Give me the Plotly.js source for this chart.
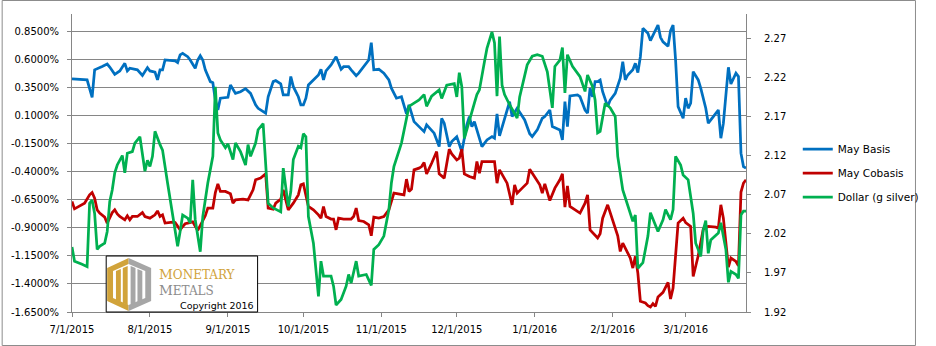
<!DOCTYPE html>
<html>
<head>
<meta charset="utf-8">
<script src="https://cdn.plot.ly/plotly-3.0.1.min.js"></script>
<style>
html,body{margin:0;padding:0;background:#fff;}
#chart{width:936px;height:346px;}
</style>
</head>
<body>
<div id="chart"></div>
<script>
// ---------- DATA ----------
const basisDates = ["2015-07-01","2015-07-07","2015-07-09","2015-07-10","2015-07-13","2015-07-15","2015-07-16","2015-07-18","2015-07-20","2015-07-22","2015-07-23","2015-07-24","2015-07-27","2015-07-29","2015-07-31","2015-08-01","2015-08-03","2015-08-04","2015-08-05","2015-08-06","2015-08-07","2015-08-11","2015-08-12","2015-08-13","2015-08-14","2015-08-16","2015-08-17","2015-08-19","2015-08-20","2015-08-21","2015-08-22","2015-08-23","2015-08-25","2015-08-26","2015-08-27","2015-08-28","2015-08-29","2015-09-01","2015-09-02","2015-09-04","2015-09-06","2015-09-08","2015-09-10","2015-09-12","2015-09-13","2015-09-16","2015-09-17","2015-09-19","2015-09-20","2015-09-22","2015-09-23","2015-09-25","2015-09-26","2015-09-27","2015-09-29","2015-09-30","2015-10-01","2015-10-02","2015-10-03","2015-10-07","2015-10-08","2015-10-09","2015-10-10","2015-10-12","2015-10-14","2015-10-16","2015-10-17","2015-10-19","2015-10-20","2015-10-22","2015-10-23","2015-10-25","2015-10-27","2015-10-28","2015-10-29","2015-10-31","2015-11-02","2015-11-04","2015-11-05","2015-11-07","2015-11-09","2015-11-11","2015-11-12","2015-11-14","2015-11-16","2015-11-18","2015-11-19","2015-11-22","2015-11-24","2015-11-25","2015-11-26","2015-11-28","2015-11-29","2015-12-01","2015-12-03","2015-12-05","2015-12-06","2015-12-07","2015-12-08","2015-12-11","2015-12-13","2015-12-15","2015-12-16","2015-12-17","2015-12-18","2015-12-20","2015-12-22","2015-12-23","2015-12-25","2015-12-28","2015-12-30","2015-12-31","2016-01-02","2016-01-04","2016-01-05","2016-01-07","2016-01-08","2016-01-11","2016-01-12","2016-01-13","2016-01-14","2016-01-15","2016-01-18","2016-01-19","2016-01-21","2016-01-22","2016-01-23","2016-01-24","2016-01-25","2016-01-26","2016-01-27","2016-01-28","2016-01-30","2016-01-31","2016-02-02","2016-02-04","2016-02-05","2016-02-06","2016-02-07","2016-02-09","2016-02-10","2016-02-11","2016-02-12","2016-02-13","2016-02-15","2016-02-16","2016-02-18","2016-02-19","2016-02-20","2016-02-21","2016-02-23","2016-02-24","2016-02-25","2016-02-26","2016-02-27","2016-02-28","2016-02-29","2016-03-01","2016-03-02","2016-03-03","2016-03-04","2016-03-06","2016-03-07","2016-03-09","2016-03-10","2016-03-12","2016-03-14","2016-03-15","2016-03-16","2016-03-18","2016-03-19","2016-03-21","2016-03-22","2016-03-23","2016-03-24","2016-03-25"];
const basisValues = [0.43,0.42,0.265,0.51,0.54,0.562,0.535,0.47,0.50,0.568,0.50,0.524,0.51,0.46,0.53,0.50,0.49,0.42,0.51,0.51,0.598,0.59,0.575,0.643,0.657,0.627,0.598,0.524,0.598,0.636,0.598,0.51,0.405,0.395,0.24,0.152,0.257,0.265,0.375,0.30,0.315,0.342,0.30,0.197,0.167,0.123,0.27,0.405,0.414,0.384,0.286,0.286,0.45,0.36,0.27,0.197,0.197,0.257,0.375,0.464,0.515,0.42,0.50,0.553,0.627,0.515,0.538,0.538,0.51,0.458,0.48,0.538,0.598,0.752,0.51,0.515,0.48,0.42,0.346,0.257,0.27,0.117,0.197,0.048,0.004,-0.041,0.019,-0.055,-0.175,0.078,0.034,-0.175,-0.13,-0.086,-0.219,0.019,0.093,0.004,0.048,-0.175,-0.115,-0.086,-0.10,0.117,-0.079,0.063,0.226,0.093,0.167,0.063,-0.06,-0.086,-0.026,0.078,0.093,0.152,0.004,-0.026,-0.115,0.226,0.004,0.277,0.286,0.27,0.152,0.123,0.346,0.27,0.405,0.405,0.42,0.315,0.182,0.24,0.30,0.435,0.583,0.42,0.464,0.51,0.568,0.485,0.627,0.88,0.836,0.77,0.86,0.91,0.80,0.76,0.72,0.86,0.91,0.598,0.182,0.137,0.078,0.257,0.167,0.212,0.494,0.42,0.346,0.167,0.034,0.093,0.152,-0.10,0.034,0.533,0.384,0.48,0.45,-0.233,-0.353,-0.367];

const cobasisDates = ["2015-07-01","2015-07-02","2015-07-06","2015-07-08","2015-07-09","2015-07-10","2015-07-11","2015-07-12","2015-07-14","2015-07-15","2015-07-17","2015-07-18","2015-07-19","2015-07-20","2015-07-22","2015-07-23","2015-07-24","2015-07-25","2015-07-27","2015-07-29","2015-07-30","2015-08-01","2015-08-03","2015-08-04","2015-08-05","2015-08-06","2015-08-07","2015-08-10","2015-08-11","2015-08-13","2015-08-14","2015-08-15","2015-08-16","2015-08-18","2015-08-20","2015-08-21","2015-08-23","2015-08-24","2015-08-26","2015-08-27","2015-08-28","2015-08-29","2015-08-31","2015-09-02","2015-09-03","2015-09-04","2015-09-07","2015-09-09","2015-09-11","2015-09-12","2015-09-14","2015-09-16","2015-09-17","2015-09-19","2015-09-20","2015-09-22","2015-09-23","2015-09-24","2015-09-25","2015-09-27","2015-09-29","2015-09-30","2015-10-01","2015-10-03","2015-10-05","2015-10-07","2015-10-08","2015-10-09","2015-10-10","2015-10-12","2015-10-13","2015-10-14","2015-10-15","2015-10-17","2015-10-20","2015-10-21","2015-10-22","2015-10-23","2015-10-25","2015-10-27","2015-10-28","2015-10-29","2015-10-31","2015-11-02","2015-11-04","2015-11-06","2015-11-10","2015-11-11","2015-11-12","2015-11-13","2015-11-14","2015-11-16","2015-11-17","2015-11-18","2015-11-19","2015-11-21","2015-11-22","2015-11-23","2015-11-24","2015-11-26","2015-11-28","2015-11-29","2015-12-01","2015-12-02","2015-12-03","2015-12-04","2015-12-06","2015-12-08","2015-12-09","2015-12-10","2015-12-11","2015-12-13","2015-12-16","2015-12-17","2015-12-18","2015-12-21","2015-12-23","2015-12-24","2015-12-25","2015-12-27","2015-12-29","2015-12-30","2015-12-31","2016-01-03","2016-01-04","2016-01-05","2016-01-07","2016-01-09","2016-01-11","2016-01-12","2016-01-13","2016-01-14","2016-01-15","2016-01-17","2016-01-19","2016-01-21","2016-01-22","2016-01-23","2016-01-24","2016-01-26","2016-01-27","2016-01-28","2016-01-30","2016-01-31","2016-02-01","2016-02-03","2016-02-04","2016-02-05","2016-02-07","2016-02-08","2016-02-09","2016-02-10","2016-02-11","2016-02-12","2016-02-14","2016-02-15","2016-02-16","2016-02-17","2016-02-18","2016-02-19","2016-02-21","2016-02-23","2016-02-24","2016-02-25","2016-02-27","2016-02-29","2016-03-01","2016-03-03","2016-03-04","2016-03-06","2016-03-08","2016-03-10","2016-03-13","2016-03-14","2016-03-15","2016-03-16","2016-03-18","2016-03-19","2016-03-21","2016-03-22","2016-03-23","2016-03-24","2016-03-25"];
const cobasisValues = [-0.665,-0.73,-0.679,-0.605,-0.584,-0.634,-0.739,-0.768,-0.804,-0.857,-0.763,-0.739,-0.775,-0.798,-0.828,-0.792,-0.828,-0.798,-0.798,-0.763,-0.798,-0.813,-0.783,-0.748,-0.798,-0.783,-0.857,-0.848,-0.852,-0.917,-0.887,-0.863,-0.857,-0.846,-0.923,-0.881,-0.792,-0.723,-0.723,-0.584,-0.507,-0.575,-0.575,-0.596,-0.679,-0.65,-0.643,-0.65,-0.56,-0.471,-0.456,-0.418,-0.723,-0.732,-0.679,-0.643,-0.56,-0.65,-0.739,-0.679,-0.605,-0.516,-0.507,-0.709,-0.739,-0.783,-0.813,-0.709,-0.798,-0.821,-0.821,-0.917,-0.813,-0.821,-0.821,-0.798,-0.723,-0.834,-0.843,-0.872,-0.97,-0.804,-0.813,-0.798,-0.739,-0.59,-0.605,-0.465,-0.575,-0.554,-0.382,-0.367,-0.353,-0.317,-0.418,-0.323,-0.264,-0.219,-0.418,-0.456,-0.198,-0.24,-0.293,-0.278,-0.198,-0.418,-0.442,-0.456,-0.308,-0.412,-0.308,-0.308,-0.308,-0.501,-0.382,-0.501,-0.694,-0.516,-0.59,-0.545,-0.501,-0.376,-0.412,-0.516,-0.59,-0.507,-0.656,-0.545,-0.471,-0.418,-0.715,-0.525,-0.709,-0.739,-0.768,-0.679,-0.605,-0.917,-0.94,-0.99,-0.952,-0.813,-0.694,-0.768,-0.843,-0.97,-1.11,-1.035,-1.124,-1.169,-1.258,-1.154,-1.303,-1.555,-1.57,-1.594,-1.606,-1.576,-1.60,-1.516,-1.475,-1.386,-1.534,-1.436,-0.857,-0.813,-0.852,-0.887,-1.333,-1.148,-0.911,-0.887,-0.893,-0.902,-0.694,-0.813,-1.249,-1.169,-1.199,-1.237,-0.58,-0.50,-0.471];

const dollarDates = ["2015-07-01","2015-07-02","2015-07-05","2015-07-07","2015-07-08","2015-07-09","2015-07-10","2015-07-11","2015-07-12","2015-07-14","2015-07-15","2015-07-16","2015-07-17","2015-07-18","2015-07-19","2015-07-21","2015-07-22","2015-07-23","2015-07-25","2015-07-26","2015-07-28","2015-07-30","2015-07-31","2015-08-01","2015-08-02","2015-08-03","2015-08-05","2015-08-06","2015-08-08","2015-08-10","2015-08-12","2015-08-13","2015-08-14","2015-08-16","2015-08-17","2015-08-18","2015-08-19","2015-08-21","2015-08-22","2015-08-24","2015-08-26","2015-08-27","2015-08-28","2015-08-29","2015-08-31","2015-09-01","2015-09-03","2015-09-04","2015-09-06","2015-09-08","2015-09-09","2015-09-10","2015-09-12","2015-09-13","2015-09-15","2015-09-17","2015-09-19","2015-09-22","2015-09-23","2015-09-25","2015-09-26","2015-09-27","2015-09-29","2015-09-30","2015-10-01","2015-10-02","2015-10-03","2015-10-05","2015-10-07","2015-10-08","2015-10-09","2015-10-12","2015-10-13","2015-10-14","2015-10-16","2015-10-18","2015-10-19","2015-10-20","2015-10-22","2015-10-23","2015-10-26","2015-10-27","2015-10-28","2015-10-29","2015-10-31","2015-11-02","2015-11-04","2015-11-05","2015-11-06","2015-11-09","2015-11-11","2015-11-12","2015-11-14","2015-11-16","2015-11-18","2015-11-19","2015-11-21","2015-11-24","2015-11-25","2015-11-27","2015-11-30","2015-12-01","2015-12-02","2015-12-03","2015-12-04","2015-12-06","2015-12-08","2015-12-09","2015-12-10","2015-12-12","2015-12-13","2015-12-15","2015-12-16","2015-12-17","2015-12-18","2015-12-19","2015-12-20","2015-12-22","2015-12-25","2015-12-26","2015-12-29","2015-12-31","2016-01-02","2016-01-04","2016-01-06","2016-01-08","2016-01-09","2016-01-11","2016-01-12","2016-01-13","2016-01-14","2016-01-16","2016-01-19","2016-01-21","2016-01-22","2016-01-24","2016-01-25","2016-01-26","2016-01-27","2016-01-29","2016-01-31","2016-02-02","2016-02-03","2016-02-05","2016-02-08","2016-02-09","2016-02-10","2016-02-11","2016-02-13","2016-02-15","2016-02-16","2016-02-19","2016-02-21","2016-02-22","2016-02-24","2016-02-25","2016-02-26","2016-02-28","2016-02-29","2016-03-02","2016-03-04","2016-03-05","2016-03-06","2016-03-07","2016-03-08","2016-03-09","2016-03-10","2016-03-11","2016-03-14","2016-03-15","2016-03-17","2016-03-18","2016-03-19","2016-03-21","2016-03-22","2016-03-23","2016-03-24","2016-03-25"];
const dollarValues = [2.003,1.985,1.981,1.978,2.059,2.063,2.046,2.0,2.004,2.008,2.023,2.061,2.076,2.098,2.108,2.12,2.098,2.123,2.125,2.136,2.144,2.10,2.114,2.106,2.119,2.151,2.134,2.127,2.085,2.042,2.004,2.023,2.044,2.040,2.034,2.089,2.038,1.997,2.042,2.085,2.119,2.208,2.149,2.14,2.13,2.135,2.115,2.136,2.125,2.108,2.134,2.119,2.136,2.153,2.161,2.059,2.053,2.048,2.104,2.055,2.074,2.115,2.132,2.13,2.148,2.144,2.042,2.008,1.94,1.985,1.966,1.966,1.953,1.929,1.936,1.953,1.968,1.957,1.985,1.966,1.968,1.961,1.954,2.0,2.006,2.017,2.051,2.085,2.106,2.136,2.17,2.183,2.187,2.191,2.198,2.183,2.196,2.204,2.193,2.21,2.212,2.195,2.226,2.208,2.142,2.163,2.187,2.198,2.204,2.24,2.257,2.278,2.264,2.196,2.272,2.21,2.198,2.185,2.168,2.195,2.236,2.247,2.249,2.247,2.227,2.181,2.234,2.242,2.258,2.20,2.249,2.234,2.221,2.202,2.223,2.208,2.191,2.149,2.151,2.187,2.181,2.17,2.119,2.076,2.044,2.036,2.044,1.976,1.983,2.017,2.047,2.023,2.038,2.051,2.038,2.051,2.119,2.108,2.095,2.089,2.046,2.008,2.0,1.991,2.025,2.037,1.995,2.012,2.021,2.034,2.0,1.958,1.972,1.968,1.963,2.044,2.049,2.049];

const seriesNames = ["May Basis","May Cobasis","Dollar (g silver)"];
const leftTicks = [0.85,0.6,0.35,0.1,-0.15,-0.4,-0.65,-0.9,-1.15,-1.4,-1.65];
const rightTicks = [1.92,1.97,2.02,2.07,2.12,2.17,2.22,2.27];
const xTicks = ["2015-07-01","2015-08-01","2015-09-01","2015-10-01","2015-11-01","2015-12-01","2016-01-01","2016-02-01","2016-03-01"];
const logoWords = ["MONETARY","METALS","Copyright 2016"];

// ---------- LAYOUT HELPERS ----------
const L = 72, R = 174, T = 14, B = 34, W = 936, H = 346;
const PW = W - L - R, PH = H - T - B;
const px = x => (x - L) / PW;
const py = y => (H - B - y) / PH;
const path = pts => pts.map((p, i) => (i ? 'L' : 'M') + px(p[0]) + ',' + py(p[1])).join(' ') + ' Z';

const gold = '#D1A33A', grey = '#A6A6A6';
const FONT = 'DejaVu Sans';
const smallCaps = (w, big, small) =>
  '<span style="font-size:' + big + 'px">' + w[0] + '</span><span style="font-size:' + small + 'px">' + w.slice(1) + '</span>';

const traces = [
  {x: basisDates, y: basisValues, name: seriesNames[0], type: 'scatter', mode: 'lines',
   line: {color: '#0070C0', width: 2.75}, yaxis: 'y', legendgroup: 'a'},
  {x: cobasisDates, y: cobasisValues, name: seriesNames[1], type: 'scatter', mode: 'lines',
   line: {color: '#C00000', width: 2.75}, yaxis: 'y', legendgroup: 'b'},
  {x: dollarDates, y: dollarValues, name: seriesNames[2], type: 'scatter', mode: 'lines',
   line: {color: '#00B050', width: 2.75}, yaxis: 'y2', legendgroup: 'c'}
];

const shapes = [
  {type: 'rect', xref: 'paper', yref: 'paper', x0: px(0.5), x1: px(935.5), y0: py(345.5), y1: py(0.5),
   line: {color: '#8C8C8C', width: 1}, fillcolor: 'rgba(0,0,0,0)', layer: 'above'},
  {type: 'rect', xref: 'paper', yref: 'paper', x0: px(107), x1: px(262), y0: py(312), y1: py(256),
   line: {color: '#000', width: 1}, fillcolor: '#fff', layer: 'above'},
  {type: 'path', xref: 'paper', yref: 'paper', path: path([[130,258],[108,268],[108,301],[130,311]]),
   fillcolor: gold, line: {width: 0}, layer: 'above'},
  {type: 'path', xref: 'paper', yref: 'paper', path: path([[130,258],[153,268],[153,301],[130,311]]),
   fillcolor: grey, line: {width: 0}, layer: 'above'},
  {type: 'path', xref: 'paper', yref: 'paper', path: path([[130,264],[114,271],[114,298],[130,305],[147,298],[147,271]]),
   fillcolor: '#fff', line: {width: 0}, layer: 'above'},
  {type: 'path', xref: 'paper', yref: 'paper', path: path([[117,271],[122,269],[122,302],[117,300]]), fillcolor: gold, line: {width: 0}, layer: 'above'},
  {type: 'path', xref: 'paper', yref: 'paper', path: path([[124,268],[129,266],[129,305],[124,303]]), fillcolor: gold, line: {width: 0}, layer: 'above'},
  {type: 'path', xref: 'paper', yref: 'paper', path: path([[132,266],[137,268],[137,303],[132,305]]), fillcolor: grey, line: {width: 0}, layer: 'above'},
  {type: 'path', xref: 'paper', yref: 'paper', path: path([[139,269],[144,271],[144,300],[139,302]]), fillcolor: grey, line: {width: 0}, layer: 'above'}
];

const annotations = [
  {xref: 'paper', yref: 'paper', x: px(160), y: py(274), xanchor: 'left', yanchor: 'middle', showarrow: false,
   text: smallCaps(logoWords[0], 13.5, 12), font: {family: 'DejaVu Serif', size: 12, color: gold}, borderpad: 0},
  {xref: 'paper', yref: 'paper', x: px(160), y: py(290), xanchor: 'left', yanchor: 'middle', showarrow: false,
   text: smallCaps(logoWords[1], 13.5, 12), font: {family: 'DejaVu Serif', size: 12, color: '#8C8C8C'}, borderpad: 0},
  {xref: 'paper', yref: 'paper', x: px(182), y: py(305.5), xanchor: 'left', yanchor: 'middle', showarrow: false,
   text: logoWords[2], font: {family: FONT, size: 9.5, color: '#000'}, borderpad: 0}
];

const layout = {
  width: W, height: H,
  margin: {l: L, r: R, t: T, b: B, pad: 0},
  paper_bgcolor: '#fff', plot_bgcolor: '#fff',
  font: {family: FONT, size: 10, color: '#000'},
  showlegend: true,
  legend: {x: px(815), xanchor: 'left', y: py(173), yanchor: 'middle', tracegroupgap: 5,
           font: {family: FONT, size: 10.5, color: '#000'}, bgcolor: 'rgba(0,0,0,0)', itemwidth: 30},
  xaxis: {type: 'date', range: ['2015-07-01', '2016-03-25'], tickvals: xTicks, tickformat: '%-m/%-d/%Y',
          showgrid: false, showline: true, linecolor: '#868686', linewidth: 1,
          ticks: 'outside', ticklen: 4, tickcolor: '#868686', zeroline: false, ticklabelstandoff: 4},
  yaxis: {range: [-1.65, 1.008], tickvals: leftTicks, ticktext: leftTicks.map(v => v.toFixed(4) + '%'),
          showgrid: true, gridcolor: '#868686', gridwidth: 1, showline: true, linecolor: '#868686',
          ticks: 'outside', ticklen: 4, tickcolor: '#868686', zeroline: false, ticklabelstandoff: 6},
  yaxis2: {range: [1.92, 2.301], overlaying: 'y', side: 'right', tickvals: rightTicks,
           ticktext: rightTicks.map(v => v.toFixed(2)), showgrid: false, showline: true,
           linecolor: '#868686', ticks: 'outside', ticklen: 4, tickcolor: '#868686', zeroline: false,
           ticklabelstandoff: 11},
  shapes: shapes,
  annotations: annotations
};

Plotly.newPlot('chart', traces, layout, {displayModeBar: false, staticPlot: true});
</script>
</body>
</html>
